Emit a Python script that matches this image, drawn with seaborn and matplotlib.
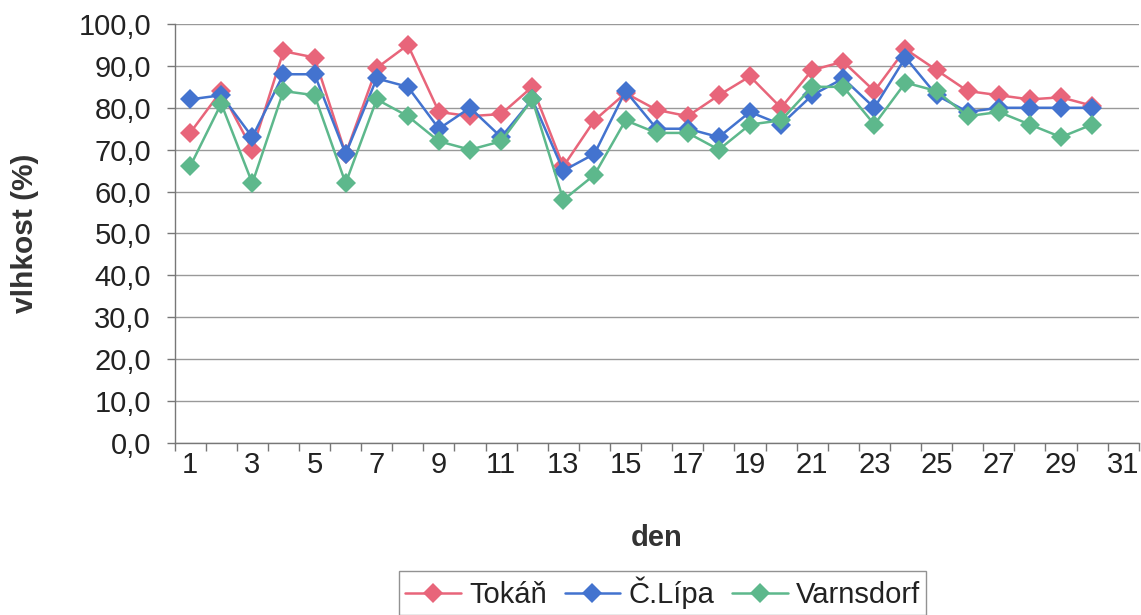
import seaborn as sns
import matplotlib.pyplot as plt
import pandas as pd
from matplotlib.ticker import FuncFormatter, MultipleLocator

# dny v mesici
den = list(range(1, 31))

tokan = [74, 84, 70, 93.5, 92, 69, 89.5, 95, 79, 78,
         78.5, 85, 66, 77, 83.5, 79.5, 78, 83, 87.5, 80,
         89, 91, 84, 94, 89, 84, 83, 82, 82.5, 80.5]
ceska_lipa = [82, 83, 73, 88, 88, 69, 87, 85, 75, 80,
              73, 82, 65, 69, 84, 75, 75, 73, 79, 76,
              83, 87, 80, 92, 83, 79, 80, 80, 80, 80]
varnsdorf = [66, 81, 62, 84, 83, 62, 82, 78, 72, 70,
             72, 82, 58, 64, 77, 74, 74, 70, 76, 77,
             85, 85, 76, 86, 84, 78, 79, 76, 73, 76]

stanice = ["Tokáň", "Č.Lípa", "Varnsdorf"]
barvy = ["#E8657A", "#4373CF", "#5DB88C"]

df = pd.DataFrame({
    "den": den * 3,
    "vlhkost": tokan + ceska_lipa + varnsdorf,
    "stanice": [stanice[0]] * 30 + [stanice[1]] * 30 + [stanice[2]] * 30,
})

sns.set_style("white")
plt.rcParams['font.family'] = ['Liberation Sans', 'DejaVu Sans']

fig = plt.figure(figsize=(11.41, 6.15), dpi=100)
ax = fig.add_axes([0.153, 0.2797, 0.845, 0.6813])

sns.lineplot(
    data=df,
    x="den",
    y="vlhkost",
    hue="stanice",
    hue_order=stanice,
    palette=barvy,
    marker="D",
    markersize=10,
    markeredgewidth=0,
    linewidth=1.8,
    ax=ax,
)

ax.set_xlim(0.5, 31.5)
ax.set_ylim(0, 100)
ax.yaxis.set_major_locator(MultipleLocator(10))
ax.yaxis.set_major_formatter(FuncFormatter(lambda v, p: f"{v:.1f}".replace(".", ",")))

ax.set_xticks(range(1, 32, 2))
ax.set_xticks([i + 0.5 for i in range(0, 32)], minor=True)
ax.tick_params(axis="x", which="major", length=0, pad=6, labelsize=21, colors="#222222")
ax.tick_params(axis="x", which="minor", length=6, width=1, color="#777777", bottom=True)
ax.tick_params(axis="y", length=6, width=1, color="#777777", left=True, labelsize=21,
               colors="#222222", pad=11)

ax.grid(axis="y", color="#999999", linewidth=1)
for side in ["top", "right"]:
    ax.spines[side].set_visible(False)
for side in ["left", "bottom"]:
    ax.spines[side].set_color("#777777")
    ax.spines[side].set_linewidth(1)

ax.set_xlabel("den", fontsize=21, fontweight="bold", labelpad=32, color="#333333")
ax.set_ylabel("vlhkost (%)", fontsize=21.5, fontweight="bold", labelpad=28, color="#333333")

handles, labels = ax.get_legend_handles_labels()
ax.get_legend().remove()
leg = fig.legend(
    handles, labels,
    loc="lower center",
    bbox_to_anchor=(0.581, 0.0),
    borderaxespad=0.0,
    ncol=3,
    fontsize=21,
    frameon=True,
    fancybox=False,
    edgecolor="#777777",
    handlelength=1.9,
    handletextpad=0.3,
    columnspacing=0.6,
    borderpad=0.2,
)
leg.get_frame().set_linewidth(1)
for t in leg.get_texts():
    t.set_color("#222222")

fig.savefig("out.png", dpi=100)
